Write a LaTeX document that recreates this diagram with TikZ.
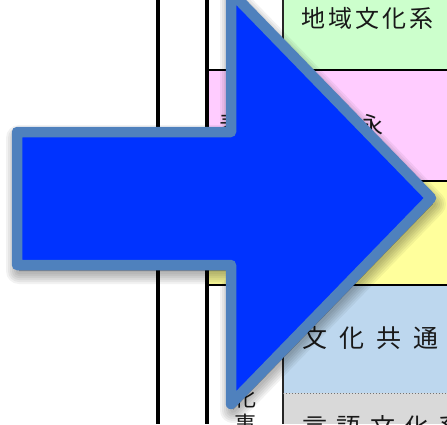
\documentclass[tikz,border=0pt]{standalone}
\usepackage{fontspec}
\newfontfamily\jp{Noto Sans CJK JP}
\definecolor{bandgreen}{HTML}{CCFFCC}
\definecolor{bandpink}{HTML}{FFCCFF}
\definecolor{bandyellow}{HTML}{FFFF9C}
\definecolor{bandblue}{HTML}{BDD7EE}
\definecolor{bandgray}{HTML}{D9D9D9}
\definecolor{arrowfill}{HTML}{0033FF}
\definecolor{arrowline}{HTML}{4F81BD}
\begin{document}
\begin{tikzpicture}[x=1pt,y=-1pt,
  txt/.style={font=\jp\fontsize{24}{28}\selectfont, inner sep=0pt, text=black!90},
  bigtxt/.style={font=\jp\fontsize{25}{29}\selectfont, inner sep=0pt, text=black!90},
  rule/.style={black, line width=2.5pt},
  thickrule/.style={black, line width=4pt},
  thinrule/.style={black!85, line width=1.5pt},
  blockarrow/.style={fill=arrowfill, draw=arrowline, line width=10.5pt, line join=round}]
\useasboundingbox (0,0) rectangle (447,424);
\fill[white] (0,0) rectangle (447,424);
% bands
\fill[bandgreen] (283,0) rectangle (447,70);
\fill[bandpink] (207,70) rectangle (447,181);
\fill[bandyellow] (207,181) rectangle (447,285);
\fill[bandblue] (283,285) rectangle (447,393);
\fill[bandgray] (283,393) rectangle (447,424);
% rules
\draw[thickrule] (158,0) -- (158,424);
\draw[thickrule] (207,0) -- (207,424);
\draw[rule] (207,70) -- (447,70);
\draw[rule] (207,181) -- (447,181);
\draw[rule] (207,285) -- (447,285);
\draw[thinrule] (283,0) -- (283,70);
\draw[thinrule] (283,285) -- (283,424);
\draw[black!55, line width=1pt, dotted] (283,393) -- (447,393);
% texts
\node[txt, anchor=west] (chiiki) at (301,18) {地\hspace{3pt}域\hspace{3pt}文\hspace{3pt}化\hspace{3pt}系};
\node[txt] (hyo) at (231,124) {表};
\node[txt] (ei) at (371,125) {永};
\node[bigtxt, anchor=west] (kyotsu) at (302,338) {文\hspace{12pt}化\hspace{12pt}共\hspace{12pt}通};
\node[bigtxt, anchor=west] (gengo) at (302,427) {言\hspace{9pt}語\hspace{9pt}文\hspace{9pt}化\hspace{9pt}系};
\node[font=\jp\fontsize{22}{26}\selectfont, inner sep=0pt, align=center, text=black!90] (kaji) at (245,411) {化\\事};
% shadow
\def\arrowpath{(17,132) -- (231,132) -- (231,-8) -- (431,198) -- (231,404) -- (231,265) -- (17,265) -- cycle}
\foreach \w in {26,22,18,14,10,6} {
  \filldraw[black, fill opacity=0.05, draw opacity=0.05, line width=\w pt, line join=round, shift={(2,6)}] \arrowpath;
}
% arrow
\path[blockarrow] \arrowpath;
\end{tikzpicture}
\end{document}
